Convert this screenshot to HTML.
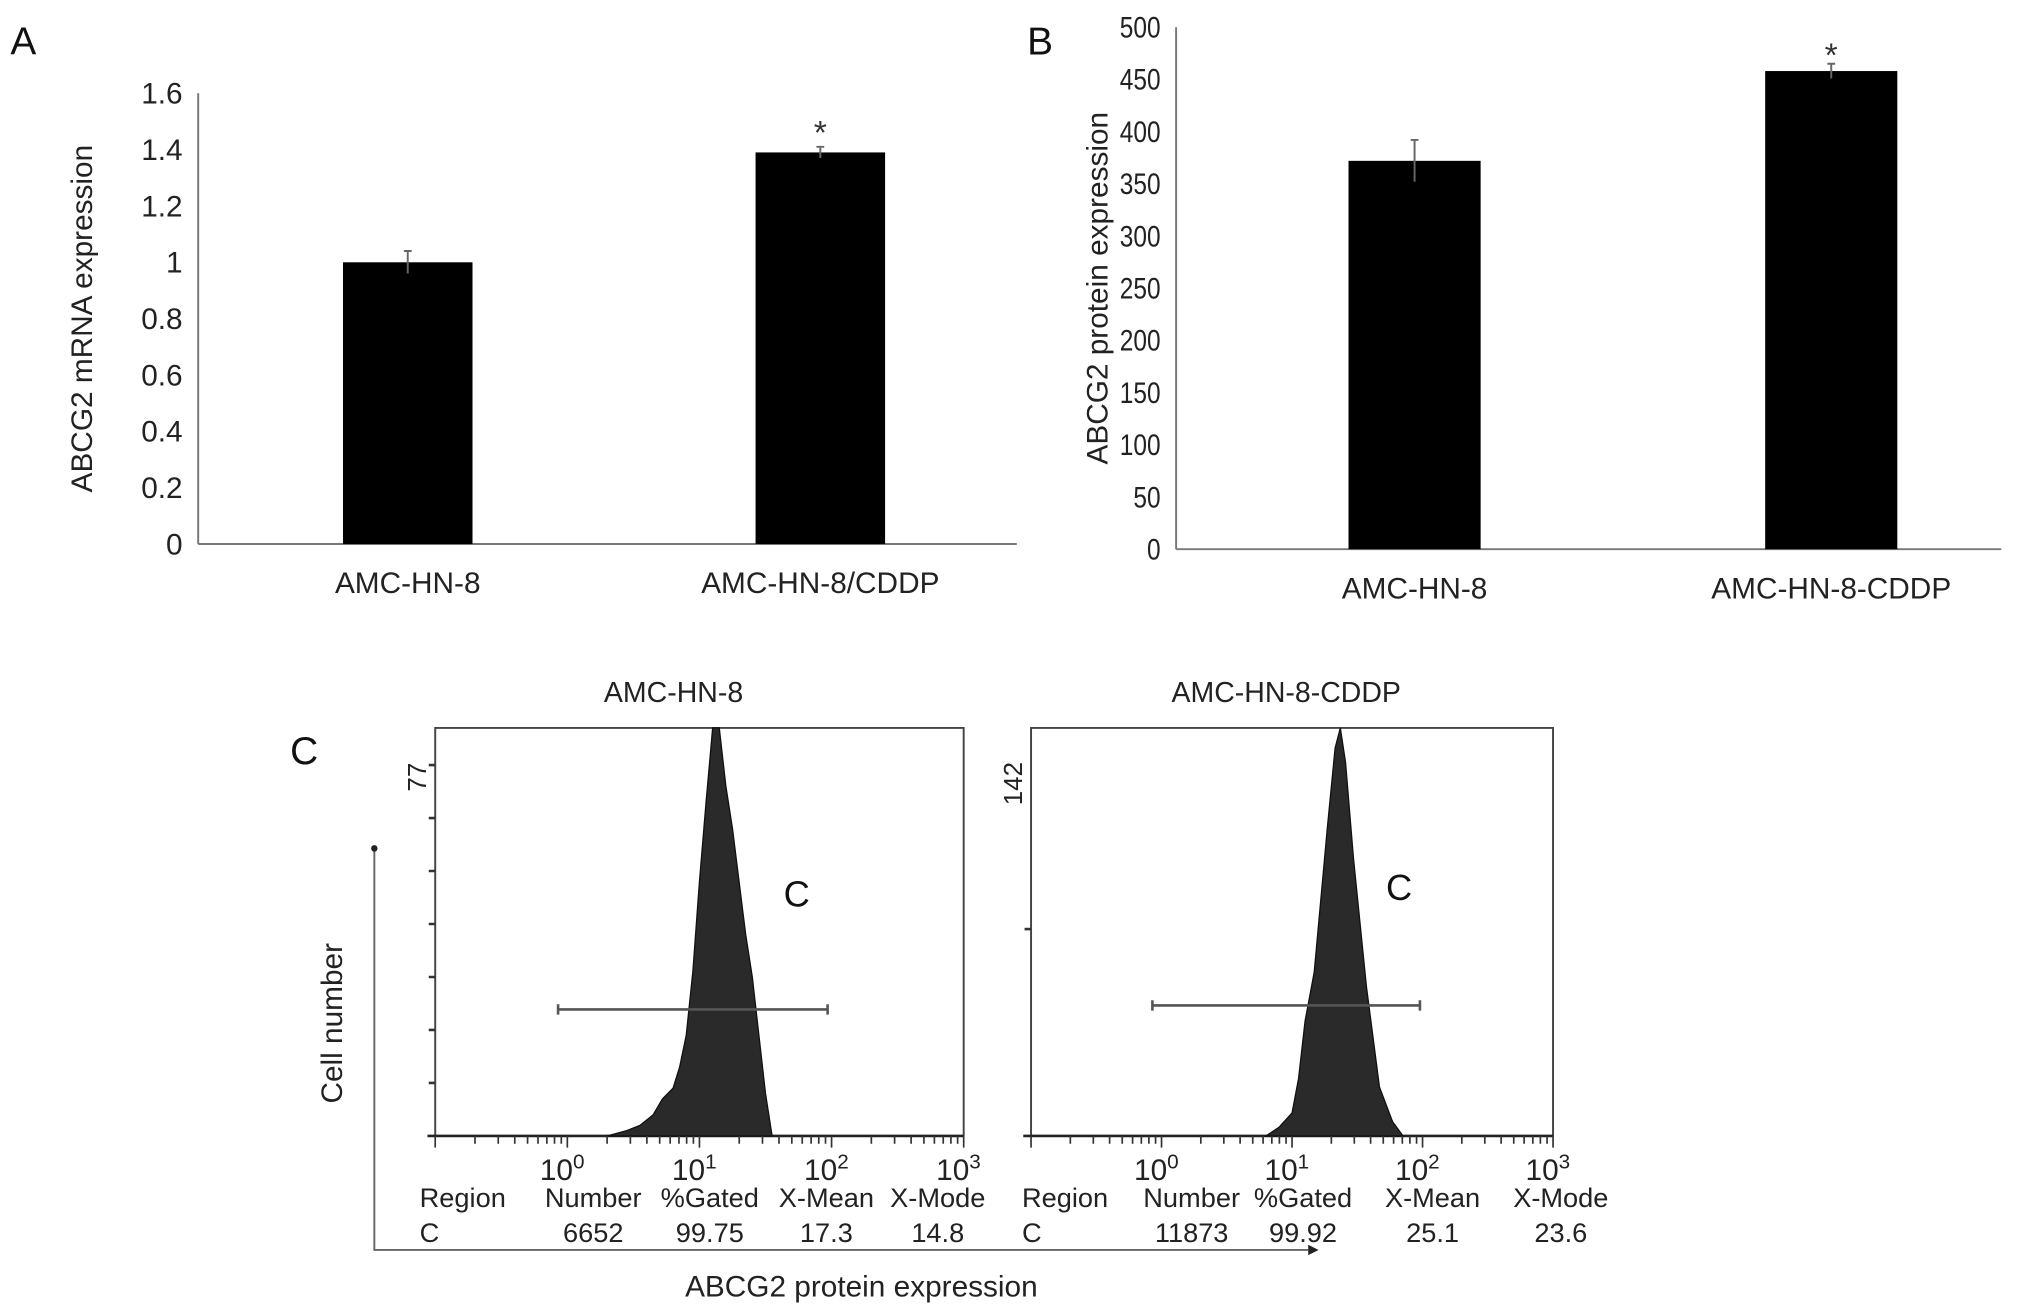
<!DOCTYPE html>
<html><head><meta charset="utf-8"><style>
html,body{margin:0;padding:0;background:#fff;}
svg{display:block;font-family:"Liberation Sans",Arial,sans-serif;}
</style></head><body>
<svg id="fig" width="2031" height="1316" viewBox="0 0 1568 1016" preserveAspectRatio="none">
<g id="pA"></g>
<g id="pB"></g>
<g id="pC"></g>
</svg>
<script>
// Panel A data
const catsA = ["AMC-HN-8", "AMC-HN-8/CDDP"];
const valsA = [1.0, 1.39];
const errA = [0.04, 0.02];
const ticksA = [0, 0.2, 0.4, 0.6, 0.8, 1, 1.2, 1.4, 1.6];
// Panel B data
const catsB = ["AMC-HN-8", "AMC-HN-8-CDDP"];
const valsB = [372, 458];
const errB = [20, 7];
const ticksB = [0, 50, 100, 150, 200, 250, 300, 350, 400, 450, 500];
// Panel C histograms (log10 fluorescence, counts)
const h1Log = [0.3, 0.45, 0.55, 0.65, 0.72, 0.8, 0.85, 0.9, 0.95, 1.0, 1.05, 1.1, 1.15, 1.2, 1.25, 1.3, 1.35, 1.4, 1.45, 1.5, 1.55];
const h1Cnt = [0, 1, 2, 4, 7, 9, 13, 19, 31, 48, 63, 80, 80, 66, 58, 48, 38, 30, 19, 8, 0];
const h2Log = [0.8, 0.9, 1.0, 1.05, 1.1, 1.17, 1.27, 1.33, 1.37, 1.41, 1.47, 1.57, 1.67, 1.77, 1.85];
const h2Cnt = [0, 3, 8, 20, 40, 57, 107, 135, 142, 130, 97, 52, 17, 5, 0];
const decadeLabels = ["0", "1", "2", "3"];
const statHead = ["Region", "Number", "%Gated", "X-Mean", "X-Mode"];
const stat1 = ["C", "6652", "99.75", "17.3", "14.8"];
const stat2 = ["C", "11873", "99.92", "25.1", "23.6"];

const NS = "http://www.w3.org/2000/svg";
function mk(parent, tag, attrs, text) {
  const e = document.createElementNS(NS, tag);
  for (const k in attrs) e.setAttribute(k, attrs[k]);
  if (text !== undefined) e.textContent = text;
  parent.appendChild(e);
  return e;
}

function barChart(g, o) {
  const y = v => o.y0 - (v - 0) / (o.max) * (o.y0 - o.yTop);
  let e = mk(g, "line", {x1: o.x0, y1: o.yTop, x2: o.x0, y2: o.y0, stroke: "#777", "stroke-width": 1.5});
  
  
  e = mk(g, "line", {x1: o.x0, y1: o.y0, x2: o.xR, y2: o.y0, stroke: "#777", "stroke-width": 1.5});
  
  
  o.ticks.forEach(t => {
    const l = mk(g, "text", {x: o.x0 - 12, y: y(t) + 8, "font-size": 23, "text-anchor": "end", fill: "#222", textLength: o.tickLen ? o.tickLen * String(t).length : null, lengthAdjust: "spacingAndGlyphs"}, String(t));
    if (!o.tickLen) l.removeAttribute("textLength");
    
    
  });
  o.cats.forEach((c, i) => {
    const cx = o.x0 + (o.xR - o.x0) * o.pos[i];
    const b = mk(g, "rect", {x: cx - o.bw / 2, y: y(o.vals[i]), width: o.bw, height: o.y0 - y(o.vals[i]), fill: "#000"});
    
    
    const eb = mk(g, "path", {d: `M${cx},${y(o.vals[i] + o.err[i])}V${y(o.vals[i] - o.err[i])}M${cx - 3},${y(o.vals[i] + o.err[i])}H${cx + 3}`, stroke: "#666", "stroke-width": 1.5, fill: "none"});
    
    
    const l = mk(g, "text", {x: cx, y: o.y0 + 38, "font-size": 23, "text-anchor": "middle", fill: "#222"}, c);
    
    
    if (i === 1) {
      const s = mk(g, "text", {x: cx, y: y(o.vals[i] + o.err[i]) + o.starDy, "font-size": 26, "text-anchor": "middle", fill: "#333"}, "*");
      
      
    }
  });
  const tt = mk(g, "text", {transform: `translate(${o.titleX},${(o.yTop + o.y0) / 2}) rotate(-90)`, "font-size": 23, "text-anchor": "middle", fill: "#222"}, o.title);
  
  
  const pl = mk(g, "text", {x: o.letX, y: o.letY, "font-size": 30, fill: "#111"}, o.letter);
  
  
}

barChart(document.getElementById("pA"), {x0: 153, xR: 785, yTop: 72, y0: 420, max: 1.6, ticks: ticksA, cats: catsA, vals: valsA, err: errA, pos: [0.256, 0.76], bw: 100, starDy: -2, title: "ABCG2 mRNA expression", titleX: 71, letter: "A", letX: 8, letY: 42});
barChart(document.getElementById("pB"), {x0: 908, xR: 1545, yTop: 21, y0: 424, max: 500, ticks: ticksB, cats: catsB, vals: valsB, err: errB, pos: [0.289, 0.794], bw: 102, starDy: 2, tickLen: 10.5, title: "ABCG2 protein expression", titleX: 855, letter: "B", letX: 793, letY: 42});

function hist(g, o) {
  const x = d => o.xl + (d + 1) / 4 * (o.xr - o.xl);
  const y = c => o.yb - c / o.max * (o.yb - o.yt);
  let e = mk(g, "path", {d: `M${o.xl},${o.yb}V${o.yt}H${o.xr}V${o.yb}`, stroke: "#444", "stroke-width": 1.5, fill: "none"});
  
  
  e = mk(g, "line", {x1: o.xl - 6, y1: o.yb, x2: o.xr, y2: o.yb, stroke: "#222", "stroke-width": 2});
  
  
  let d = `M${x(o.logs[0])},${o.yb}`;
  o.logs.forEach((l, i) => d += `L${x(l)},${Math.max(o.yt, y(o.cnt[i]))}`);
  d += `L${x(o.logs[o.logs.length - 1])},${o.yb}Z`;
  e = mk(g, "path", {d: d, fill: "#2a2a2a", stroke: "#111", "stroke-width": 1});
  
  
  let td = "";
  for (let dec = -1; dec < 3; dec++) for (let k = 1; k <= 9; k++) {
    const xx = x(dec + Math.log10(k));
    td += `M${xx},${o.yb}v${k === 1 ? 9 : 6}`;
  }
  td += `M${x(3)},${o.yb}v9`;
  e = mk(g, "path", {d: td, stroke: "#333", "stroke-width": 1.3});
  
  
  let yd = "";
  o.yTicks.forEach(c => yd += `M${o.xl},${y(c)}h-5`);
  e = mk(g, "path", {d: yd, stroke: "#333", "stroke-width": 2});
  
  
  decadeLabels.forEach((lab, i) => {
    const t = mk(g, "text", {x: x(i) - 4, y: o.yb + 34, "font-size": 23, "text-anchor": "middle", fill: "#222"});
    
    
    t.textContent = "10";
    mk(t, "tspan", {dy: -9, "font-size": 16}, lab);
  });
  const gy = o.yb - (o.yb - o.yt) * o.gateFrac;
  e = mk(g, "path", {d: `M${x(o.gate[0])},${gy}H${x(o.gate[1])}M${x(o.gate[0])},${gy - 4}v8M${x(o.gate[1])},${gy - 4}v8`, stroke: "#555", "stroke-width": 2});
  
  
  e = mk(g, "text", {x: o.cX, y: o.cY, "font-size": 28, fill: "#111"}, "C");
  
  
  e = mk(g, "text", {x: o.titleCx, y: o.yt - 20, "font-size": 22, "text-anchor": "middle", fill: "#222"}, o.title);
  
  
  e = mk(g, "text", {transform: `translate(${o.xl - 7},${o.maxY}) rotate(-90)`, "font-size": 20, "text-anchor": "middle", fill: "#222"}, String(o.max));
  
  
  statHead.forEach((h, i) => {
    let t = mk(g, "text", {x: o.colX[i], y: o.yb + 55, "font-size": 21, "text-anchor": i === 0 ? "start" : "middle", fill: "#222"}, h);
    
    
    t = mk(g, "text", {x: o.colX[i], y: o.yb + 82, "font-size": 21, "text-anchor": i === 0 ? "start" : "middle", fill: "#222"}, o.stats[i]);
    
    
  });
}
const gC = document.getElementById("pC");
hist(gC, {xl: 336, xr: 744, yt: 562, yb: 877, max: 77, logs: h1Log, cnt: h1Cnt, yTicks: [10, 20, 30, 40, 50, 60, 70], gate: [-0.07, 1.97], gateFrac: 0.31, cX: 605, cY: 700, title: "AMC-HN-8", titleCx: 520, maxY: 600, colX: [324, 458, 548, 638, 724], stats: stat1});
hist(gC, {xl: 796, xr: 1199, yt: 562, yb: 877, max: 142, logs: h2Log, cnt: h2Cnt, yTicks: [72], gate: [-0.07, 1.98], gateFrac: 0.32, cX: 1070, cY: 695, title: "AMC-HN-8-CDDP", titleCx: 993, maxY: 605, colX: [789, 920, 1006, 1106, 1205], stats: stat2});
let e = mk(gC, "path", {d: "M289,655V965H1010", stroke: "#666", "stroke-width": 1.5, fill: "none"});


e = mk(gC, "path", {d: "M1010,961L1018,965L1010,969Z", fill: "#222"});


e = mk(gC, "circle", {cx: 289, cy: 655, r: 2.5, fill: "#222"});


e = mk(gC, "text", {transform: "translate(264,790) rotate(-90)", "font-size": 23, "text-anchor": "middle", fill: "#222"}, "Cell number");


e = mk(gC, "text", {x: 665, y: 1001, "font-size": 23, "text-anchor": "middle", fill: "#222"}, "ABCG2 protein expression");


e = mk(gC, "text", {x: 224, y: 590, "font-size": 30, fill: "#111"}, "C");


</script>
</body></html>
